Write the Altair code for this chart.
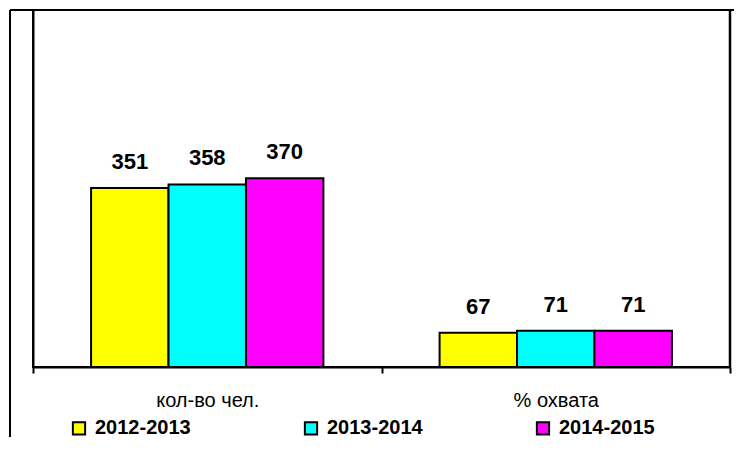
import altair as alt
import pandas as pd

categories = ["кол-во чел.", "% охвата"]
years = ["2012-2013", "2013-2014", "2014-2015"]
values_count = [351, 358, 370]
values_pct = [67, 71, 71]
colors = ["#FFFF00", "#00FFFF", "#FF00FF"]

rows = []
for cat, vals in zip(categories, [values_count, values_pct]):
    for y, v in zip(years, vals):
        rows.append({"cat": cat, "year": y, "value": v})
df = pd.DataFrame(rows)

FONT = "Liberation Sans"

x_enc = alt.X("cat:N", sort=categories, title=None,
              scale=alt.Scale(paddingInner=0, paddingOuter=0),
              axis=alt.Axis(labelAngle=0, labelFontSize=20, labelFont=FONT,
                            labelColor="black", tickBand="extent", tickSize=6,
                            tickColor="black", tickWidth=2, domainColor="black",
                            domainWidth=2, labelPadding=17, grid=False))
xoff = alt.XOffset("year:N", sort=years,
                   scale=alt.Scale(paddingInner=0, paddingOuter=0.75))
y_enc = alt.Y("value:Q", title=None,
              scale=alt.Scale(domain=[0, 700], nice=False),
              axis=alt.Axis(labels=False, ticks=False, grid=False,
                            domainColor="black", domainWidth=2))

base = alt.Chart(df)

bars = base.mark_bar(stroke="black", strokeWidth=2).encode(
    x=x_enc, xOffset=xoff, y=y_enc,
    color=alt.Color("year:N", sort=years,
                    scale=alt.Scale(domain=years, range=colors),
                    legend=alt.Legend(title=None, orient="none", direction="horizontal",
                                      legendX=36, legendY=408,
                                      symbolType="square", symbolSize=150,
                                      symbolStrokeColor="black", symbolStrokeWidth=2,
                                      symbolOpacity=1,
                                      labelFontSize=20, labelFont=FONT,
                                      labelFontWeight="bold", labelColor="black",
                                      labelOffset=6, columnPadding=109, padding=0)),
)

labels = base.mark_text(fontSize=22, font=FONT, fontWeight="bold",
                        color="black", baseline="alphabetic", dy=-19).encode(
    x=alt.X("cat:N", sort=categories), xOffset=alt.XOffset("year:N", sort=years),
    y="value:Q", text="value:Q",
)

frame_data = alt.Data(values=[{"k": 1}])
frame_left = alt.Chart(frame_data).mark_rule(color="black", strokeWidth=2).encode(
    x=alt.value(-23), y=alt.value(0), y2=alt.value(470))
frame_top = alt.Chart(frame_data).mark_rule(color="black", strokeWidth=2).encode(
    x=alt.value(-23), x2=alt.value(720), y=alt.value(0))
frame_right = alt.Chart(frame_data).mark_rule(color="black", strokeWidth=2.5).encode(
    x=alt.value(697), y=alt.value(0), y2=alt.value(357))

chart = alt.layer(bars, labels, frame_left, frame_top, frame_right).properties(
    width=697, height=357,
    padding={"left": 25, "top": 2, "right": 4, "bottom": 70},
    autosize="none",
    background="white",
).configure_view(stroke="black", strokeWidth=2)

chart.save("out.html", embed_options={"renderer": "svg", "actions": False})
